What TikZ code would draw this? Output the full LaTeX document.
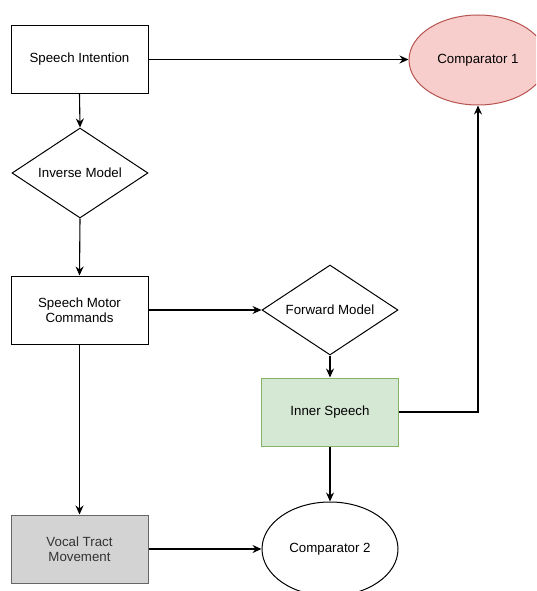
\documentclass[tikz,border=0pt]{standalone}
\usepackage{fontspec}
\setmainfont{Liberation Sans}
\usetikzlibrary{shapes.geometric,arrows.meta}
\begin{document}
\begin{tikzpicture}[x=1pt,y=-1pt,
  every node/.style={font=\fontsize{13.3}{15.5}\selectfont, align=center, inner sep=0pt},
  box/.style={draw=black, line width=1pt, fill=white, minimum width=137pt, minimum height=68pt},
  dia/.style={draw=black, line width=1pt, fill=white, diamond, aspect=1.5, minimum width=136pt, minimum height=90pt},
  ell/.style={draw=black, line width=1pt, fill=white, ellipse, minimum width=137pt, minimum height=90pt},
  conn/.style={draw=black, line width=1.1pt, -{Stealth[length=9pt,width=8pt,inset=3pt]}}]
\clip (0,0) rectangle (536,591);
\fill[white] (0,0) rectangle (536,591);
\node[box] (si) at (79.5,59.5) {Speech Intention};
\node[ell, fill={rgb,255:red,248;green,206;blue,204}, draw={rgb,255:red,184;green,84;blue,80}, minimum width=138pt, minimum height=90pt] (c1) at (478,60) {Comparator 1};
\node[dia] (inv) at (80,173) {Inverse Model};
\node[box] (smc) at (79.5,310) {Speech Motor\\Commands};
\node[dia] (fm) at (330,310) {Forward Model};
\node[box, fill={rgb,255:red,213;green,232;blue,212}, draw={rgb,255:red,130;green,179;blue,102}] (is) at (330,412) {Inner Speech};
\node[box, fill={rgb,255:red,211;green,211;blue,211}, draw={rgb,255:red,102;green,102;blue,102}, text={rgb,255:red,51;green,51;blue,51}] (vt) at (79.5,549) {Vocal Tract\\Movement};
\node[ell, minimum width=136pt, minimum height=94pt] (c2) at (330,549) {Comparator 2};
\draw[conn] (si.east) -- (c1.west |- si.east);
\draw[conn] (si.south) -- (inv.north);
\draw[conn] (inv.south) -- (smc.north);
\draw[conn] (smc.east) -- (fm.west);
\draw[conn] (smc.south) -- (vt.north);
\draw[conn] (fm.south) -- (is.north);
\draw[conn] (is.east) -| (c1.south);
\draw[conn] (is.south) -- (c2.north);
\draw[conn] (vt.east) -- (c2.west);
\end{tikzpicture}
\end{document}
